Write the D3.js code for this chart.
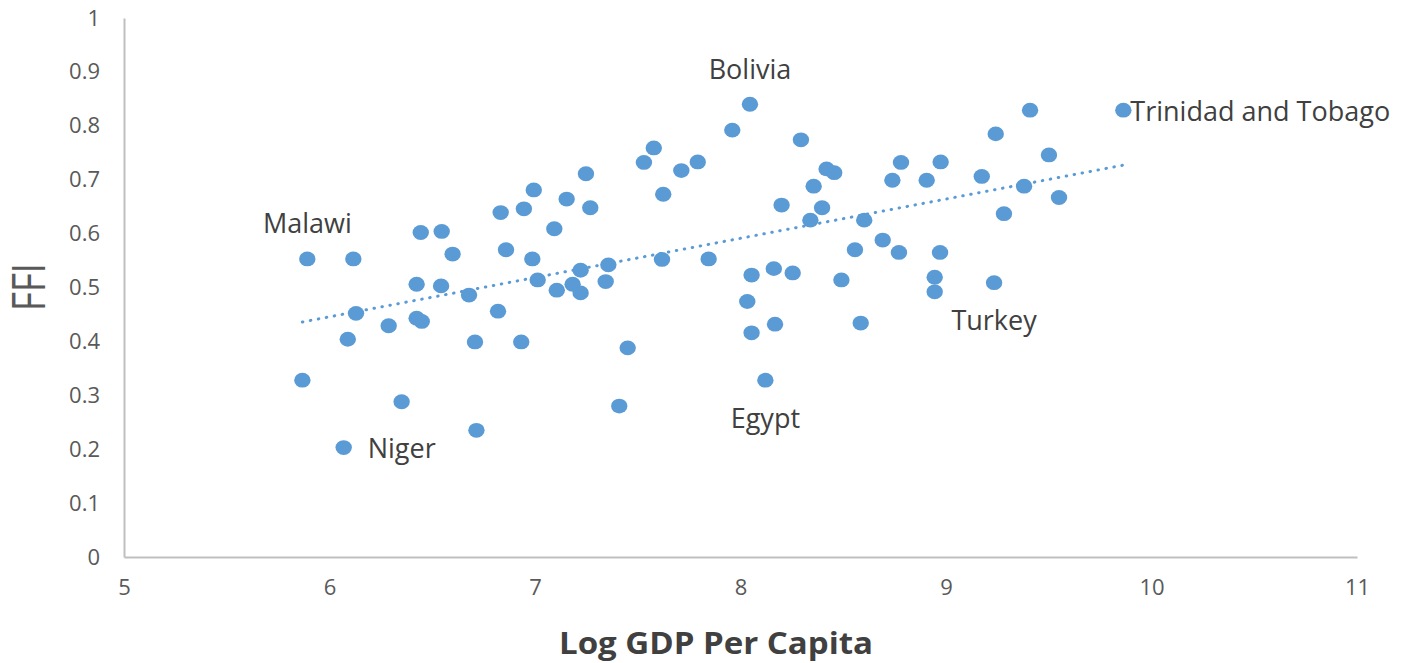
<!DOCTYPE html>
<html>
<head>
<meta charset="utf-8">
<script src="https://cdn.jsdelivr.net/npm/d3@7"></script>
<style>
  body { margin: 0; background: #fff; }
  text { font-family: "Open Sans", "Noto Sans", sans-serif; }
</style>
</head>
<body>
<div id="chart"></div>
<script>
// values: log GDP per capita (x) and FFI (y)
var gdp = [5.868, 5.892, 6.089, 6.069, 6.116, 6.129, 6.288, 6.351, 6.424, 6.424,
           6.449, 6.444, 6.546, 6.543, 6.599, 6.679, 6.708, 6.715, 6.820, 6.833,
           6.859, 6.933, 6.946, 6.987, 6.994, 7.013, 7.094, 7.106, 7.154, 7.183,
           7.222, 7.222, 7.248, 7.269, 7.344, 7.357, 7.410, 7.451, 7.530, 7.578,
           7.618, 7.624, 7.712, 7.792, 7.845, 7.960, 8.046, 8.033, 8.054, 8.054,
           8.121, 8.162, 8.168, 8.200, 8.254, 8.294, 8.340, 8.356, 8.397, 8.419,
           8.456, 8.491, 8.557, 8.585, 8.602, 8.692, 8.739, 8.771, 8.781, 8.906,
           8.945, 8.945, 8.974, 8.971, 9.174, 9.234, 9.242, 9.282, 9.380, 9.409,
           9.501, 9.550, 9.863];
var ffi = [0.328, 0.553, 0.404, 0.203, 0.553, 0.452, 0.429, 0.288, 0.506, 0.443,
           0.437, 0.602, 0.604, 0.503, 0.562, 0.486, 0.399, 0.235, 0.456, 0.639,
           0.570, 0.399, 0.646, 0.553, 0.681, 0.514, 0.609, 0.495, 0.664, 0.506,
           0.532, 0.490, 0.711, 0.648, 0.511, 0.542, 0.280, 0.388, 0.732, 0.759,
           0.552, 0.673, 0.717, 0.733, 0.553, 0.792, 0.840, 0.474, 0.523, 0.416,
           0.328, 0.535, 0.432, 0.653, 0.527, 0.774, 0.625, 0.688, 0.648, 0.720,
           0.713, 0.514, 0.570, 0.434, 0.625, 0.588, 0.699, 0.565, 0.732, 0.699,
           0.519, 0.492, 0.733, 0.565, 0.706, 0.509, 0.785, 0.637, 0.688, 0.829,
           0.746, 0.667, 0.829];

// named countries (index into the arrays above)
var labelNames = ["Malawi", "Niger", "Bolivia", "Egypt", "Turkey", "Trinidad and Tobago"];
var labelIdx = [1, 3, 46, 50, 75, 82];
var labelPos = ["above", "right", "above", "below", "below", "right"];

// linear trendline end points
var trendX = [5.868, 9.863];
var trendY = [0.436, 0.727];

var xTicks = [5, 6, 7, 8, 9, 10, 11];
var yTicks = [0, 0.1, 0.2, 0.3, 0.4, 0.5, 0.6, 0.7, 0.8, 0.9, 1];

var width = 1406, height = 663;
var margin = {top: 18, right: 49, bottom: 106, left: 124};
var w = width - margin.left - margin.right;
var h = height - margin.top - margin.bottom;

var svg = d3.select("#chart").append("svg")
    .attr("width", width)
    .attr("height", height)
  .append("g")
    .attr("transform", "translate(" + margin.left + "," + margin.top + ")");

var x = d3.scaleLinear().domain([5, 11]).range([0, w]);
var y = d3.scaleLinear().domain([0, 1]).range([h, 0]);

var blue = "#5B9BD5";
var axisCol = "#BFBFBF";
var tickCol = "#595959";

// x axis
var xAxis = d3.axisBottom(x)
    .tickValues(xTicks)
    .tickSize(0)
    .tickPadding(22)
    .tickFormat(d3.format("d"));

var gx = svg.append("g")
    .attr("transform", "translate(0," + h + ")")
    .call(xAxis);
gx.select(".domain").attr("stroke", axisCol).attr("stroke-width", 2);
gx.selectAll("text").attr("fill", tickCol).style("font-size", "22px")
    .style("font-family", "'Open Sans', sans-serif");

// y axis
var yAxis = d3.axisLeft(y)
    .tickValues(yTicks)
    .tickSize(0)
    .tickPadding(24)
    .tickFormat(function(d) { return d3.format("~g")(d); });

var gy = svg.append("g").call(yAxis);
gy.select(".domain").attr("stroke", axisCol).attr("stroke-width", 2);
gy.selectAll("text").attr("fill", tickCol).style("font-size", "22px")
    .style("font-family", "'Open Sans', sans-serif");

// trendline (dotted)
var pts = trendX.map(function(d, i) { return [x(d), y(trendY[i])]; });
svg.append("path")
    .attr("d", d3.line()(pts))
    .attr("fill", "none")
    .attr("stroke", blue)
    .attr("stroke-width", 3)
    .attr("stroke-linecap", "round")
    .attr("stroke-dasharray", "0.5 7.6");

// points
svg.selectAll("ellipse")
    .data(gdp)
  .enter().append("ellipse")
    .attr("cx", function(d) { return x(d); })
    .attr("cy", function(d, i) { return y(ffi[i]); })
    .attr("rx", 8.2)
    .attr("ry", 7.4)
    .attr("fill", blue);

// data labels
labelNames.forEach(function(name, k) {
  var i = labelIdx[k], pos = labelPos[k];
  var px = x(gdp[i]), py = y(ffi[i]);
  var t = svg.append("text")
      .attr("fill", "#404040")
      .style("font-size", "27px")
      .attr("dy", "0.35em")
      .text(name);
  if (pos == "above") t.attr("x", px).attr("y", py - 35).style("text-anchor", "middle");
  else if (pos == "below") t.attr("x", px).attr("y", py + 38).style("text-anchor", "middle");
  else if (name == "Niger") t.attr("x", px + 24).attr("y", py + 1);
  else t.attr("x", px + 7).attr("y", py + 1);
});

// axis titles
svg.append("text")
    .attr("x", 716 - margin.left)
    .attr("y", h + 97)
    .style("text-anchor", "middle")
    .style("font-size", "31px")
    .style("font-weight", "bold")
    .attr("fill", "#404040")
    .attr("textLength", 314)
    .attr("lengthAdjust", "spacingAndGlyphs")
    .text("Log GDP Per Capita");

svg.append("text")
    .attr("transform", "rotate(-90)")
    .attr("x", -(287 - margin.top))
    .attr("y", -79)
    .style("text-anchor", "middle")
    .style("font-size", "46px")
    .attr("fill", "#595959")
    .attr("textLength", 48)
    .attr("lengthAdjust", "spacingAndGlyphs")
    .text("FFI");
</script>
</body>
</html>
